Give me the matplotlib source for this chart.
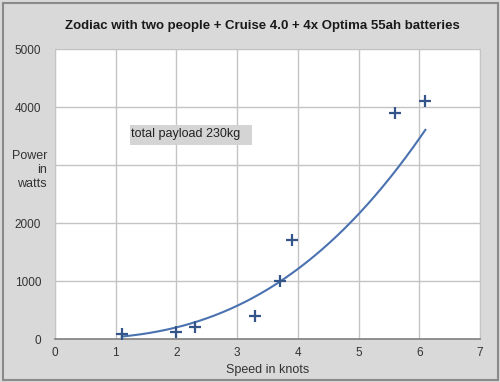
import numpy as np
import matplotlib
matplotlib.use("Agg")
import matplotlib.pyplot as plt
from matplotlib.patches import Rectangle

plt.rcParams['font.family'] = ['Liberation Sans', 'DejaVu Sans']

speed = [1.1, 2.0, 2.3, 3.3, 3.7, 3.9, 5.6, 6.1]
power = [80, 120, 200, 400, 1000, 1700, 3900, 4100]
x_ticks = [0, 1, 2, 3, 4, 5, 6, 7]
y_ticks = [0, 1000, 2000, 3000, 4000, 5000]
y_tick_labels = ['0', '1000', '2000', '', '4000', '5000']

W, H = 500, 382
fig = plt.figure(figsize=(W/100, H/100), dpi=100)
fig.patch.set_facecolor('#d9d9d9')
fig.patches.append(Rectangle((2.5/W, 2.5/H), (W-5)/W, (H-5)/H, transform=fig.transFigure,
                             fill=False, edgecolor='#8a8a8a', linewidth=1.5))

ax = fig.add_axes([55/W, 1-339/H, (480-55)/W, (339-49)/H])
ax.set_facecolor('white')

# power-law trendline fitted to data
lx, ly = np.log(speed), np.log(power)
b, lna = np.polyfit(lx, ly, 1)
xs = np.linspace(min(speed), max(speed), 200)
ax.plot(xs, np.exp(lna) * xs**b, color='#4a72b0', linewidth=1.5, zorder=3)
ax.plot(speed, power, linestyle='none', marker='+', markersize=9, markeredgewidth=1.6,
        color='#34558a', zorder=4)

ax.set_xlim(0, 7)
ax.set_ylim(0, 5000)
ax.set_xticks(x_ticks)
ax.set_yticks(y_ticks)
ax.set_yticklabels(y_tick_labels)
ax.grid(True, color='#c4c4c4', linewidth=1)
ax.set_axisbelow(True)
ax.tick_params(length=0, labelsize=8.5, colors='#333333')
ax.tick_params(axis='x', pad=6)
ax.tick_params(axis='y', pad=10)
for s in ['left', 'top', 'right']:
    ax.spines[s].set_color('#c4c4c4')
ax.spines['bottom'].set_color('#808080')
ax.spines['bottom'].set_linewidth(1.2)

fig.text(262/W, 1-26/H, 'Zodiac with two people + Cruise 4.0 + 4x Optima 55ah batteries',
         ha='center', va='center', fontsize=9.5, fontweight='bold', color='#1a1a1a')
ax.set_xlabel('Speed in knots', fontsize=9, color='#333333', labelpad=3)
fig.text(47/W, 1-170/H, 'Power\nin\nwatts', ha='right', va='center', fontsize=9,
         color='#333333', linespacing=1.25)

fig.patches.append(Rectangle((130/W, 1-145/H), (252-130)/W, 20/H, transform=fig.transFigure,
                             facecolor='#d4d4d4', edgecolor='none', zorder=5))
fig.text(131/W, 1-134/H, 'total payload 230kg', ha='left', va='center', fontsize=9,
         color='#222222', zorder=6)

fig.savefig('out.png', dpi=100, facecolor=fig.get_facecolor())
